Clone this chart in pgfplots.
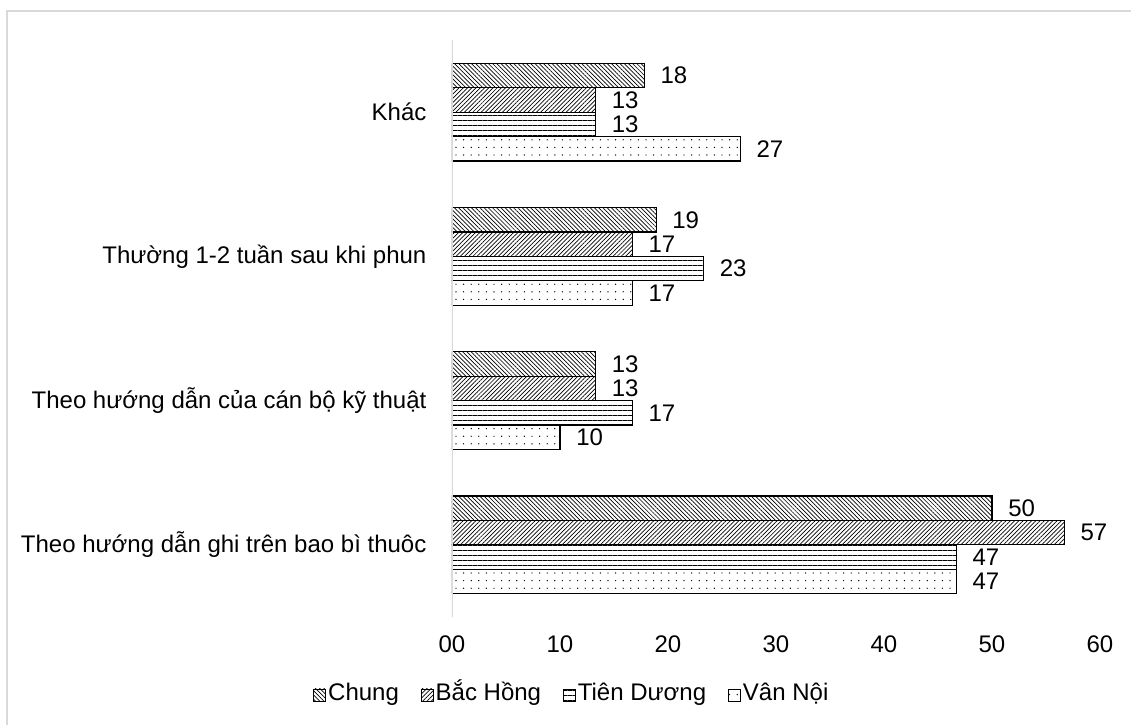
\documentclass[border=0pt]{standalone}
\usepackage{fontspec}
\setmainfont{Liberation Sans}
\usepackage{pgfplots}
\pgfplotsset{compat=1.18}
\usetikzlibrary{patterns.meta}
\definecolor{frame}{RGB}{217,217,217}

\begin{document}
\begin{tikzpicture}
\useasboundingbox (0,0) rectangle (565.5pt,-362.5pt);
\draw[frame, line width=1pt] (3.5pt,-362.5pt) -- (3.5pt,-5.5pt) -- (565.5pt,-5.5pt);
\begin{axis}[
  at={(226pt,-308.5pt)}, anchor=south west,
  scale only axis, width=324pt, height=288.5pt,
  xbar=0pt, bar width=12.2pt,
  xmin=0, xmax=60, ymin=-0.5, ymax=3.5,
  ytick={0,1,2,3},
  yticklabels={Theo hướng dẫn ghi trên bao bì thuôc, Theo hướng dẫn của cán bộ kỹ thuật, Thường 1-2 tuần sau khi phun, Khác},
  xtick={0,10,20,30,40,50,60},
  xticklabels={00,10,20,30,40,50,60},
  axis line style={draw=none},
  tick style={draw=none},
  font=\fontsize{12}{14}\selectfont,
  yticklabel style={font=\fontsize{12}{14}\selectfont, xshift=-5pt},
  xticklabel style={font=\fontsize{12}{14}\selectfont, yshift=-6pt},
  point meta=x,
  nodes near coords={\pgfmathprintnumber[fixed,precision=0,assume math mode=true]{\pgfplotspointmeta}},
  nodes near coords align={horizontal},
  nodes near coords style={font=\fontsize{12}{14}\selectfont, black, xshift=4.5pt},
  every axis plot/.append style={draw=black, line width=0.6pt},
  legend style={at={(0.185,-0.135)}, anchor=center, draw=none, fill=none,
    legend columns=4, font=\fontsize{12}{14}\selectfont,
    nodes={text height=8.5pt, text depth=2.5pt, inner sep=1pt},
    /tikz/every even column/.append style={column sep=10pt},
    legend cell align=left},
  reverse legend,
  legend image code/.code={\draw[#1, line width=0.4pt] (0pt,-3pt) rectangle (6pt,3pt);},
]
\addplot[pattern={Dots[distance=3.8pt, radius=0.35pt]}] coordinates {(46.7,0) (10.0,1) (16.7,2) (26.7,3)};
\addlegendentry{Vân Nội}
\addplot[pattern={Lines[angle=0, distance=2.5pt, line width=0.5pt]}] coordinates {(46.7,0) (16.7,1) (23.3,2) (13.3,3)};
\addlegendentry{Tiên Dương}
\addplot[pattern={Lines[angle=45, distance=1.5pt, line width=0.35pt]}] coordinates {(56.7,0) (13.3,1) (16.7,2) (13.3,3)};
\addlegendentry{Bắc Hồng}
\addplot[pattern={Lines[angle=-45, distance=1.5pt, line width=0.35pt]}] coordinates {(50.0,0) (13.3,1) (18.9,2) (17.8,3)};
\addlegendentry{Chung}
\draw[frame, line width=0.8pt] (rel axis cs:0,0) -- (rel axis cs:0,1);
\end{axis}
\end{tikzpicture}
\end{document}
